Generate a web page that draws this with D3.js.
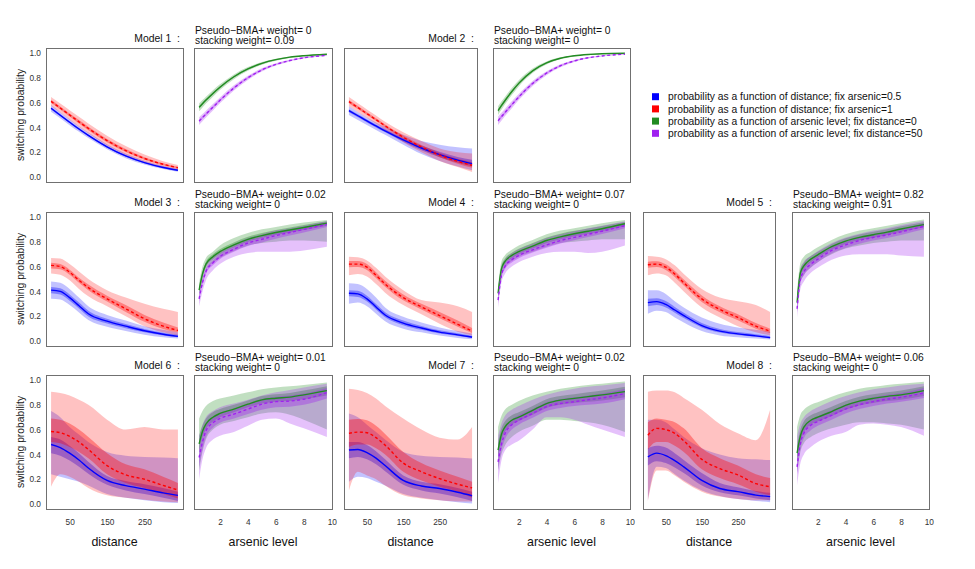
<!DOCTYPE html>
<html>
<head>
<meta charset="utf-8">
<script src="https://cdn.jsdelivr.net/npm/d3@7"></script>
<style>
body { margin: 0; background: #fff; }
svg { display: block; font-family: "Liberation Sans", Arial, Helvetica, sans-serif; }
</style>
</head>
<body>
<script>
// x grids (distance and arsenic level) at which the curves were read
var distX = [0.4, 25, 50, 75, 100, 150, 200, 250, 300, 339.5];
var arsX = [0.51, 0.75, 1, 1.5, 2, 3, 4, 5, 6, 7, 8, 9.65];

var modelNames = ["Model 1", "Model 2", "Model 3", "Model 4", "Model 5", "Model 6", "Model 7", "Model 8"];
var bmaWeights = ["0", "0", "0.02", "0.07", "0.82", "0.01", "0.02", "0.06"];
var stackWeights = ["0.09", "0", "0", "0", "0.91", "0", "0", "0"];

var legendLabels = [
  "probability as a function of distance; fix arsenic=0.5",
  "probability as a function of distance; fix arsenic=1",
  "probability as a function of arsenic level; fix distance=0",
  "probability as a function of arsenic level; fix distance=50"
];
var seriesColors = ["#0000ff", "#ff0000", "#228b22", "#a020f0"];

var yTicks = [0, 0.2, 0.4, 0.6, 0.8, 1.0];
var distTicks = [50, 150, 250];
var arsTicks = [2, 4, 6, 8, 10];

// each series: [median, lo50, hi50, lo95, hi95]
var m1Blue = [
  [0.554,0.498,0.442,0.387,0.336,0.244,0.170,0.116,0.077,0.055],
  [0.545,0.49,0.434,0.379,0.329,0.237,0.164,0.111,0.072,0.051],
  [0.563,0.506,0.45,0.395,0.343,0.251,0.176,0.121,0.082,0.059],
  [0.527,0.473,0.418,0.364,0.314,0.224,0.152,0.101,0.064,0.043],
  [0.581,0.523,0.466,0.41,0.358,0.265,0.189,0.132,0.091,0.068]];
var m1Red = [
  [0.61,0.556,0.500,0.445,0.392,0.294,0.213,0.150,0.103,0.075],
  [0.598,0.544,0.487,0.431,0.378,0.281,0.201,0.140,0.095,0.068],
  [0.622,0.568,0.513,0.459,0.406,0.307,0.225,0.160,0.111,0.082],
  [0.575,0.52,0.462,0.405,0.352,0.255,0.178,0.121,0.080,0.055],
  [0.645,0.592,0.538,0.485,0.432,0.333,0.25,0.182,0.128,0.098]];
var m1Green = [
  [0.562,0.591,0.620,0.674,0.724,0.808,0.871,0.916,0.946,0.966,0.978,0.990],
  [0.551,0.581,0.611,0.665,0.716,0.802,0.866,0.912,0.943,0.964,0.977,0.989],
  [0.573,0.601,0.629,0.683,0.732,0.814,0.876,0.92,0.949,0.968,0.979,0.991],
  [0.53,0.561,0.592,0.648,0.701,0.789,0.856,0.905,0.938,0.96,0.974,0.987],
  [0.594,0.621,0.648,0.70,0.747,0.827,0.886,0.927,0.954,0.972,0.982,0.993]];
var m1Purple = [
  [0.451,0.479,0.507,0.563,0.618,0.718,0.800,0.863,0.908,0.939,0.961,0.981],
  [0.44,0.469,0.497,0.554,0.61,0.711,0.794,0.858,0.905,0.937,0.959,0.98],
  [0.462,0.489,0.517,0.572,0.626,0.725,0.806,0.868,0.911,0.941,0.963,0.982],
  [0.42,0.45,0.479,0.537,0.594,0.697,0.783,0.85,0.898,0.932,0.955,0.977],
  [0.482,0.508,0.535,0.589,0.642,0.739,0.817,0.876,0.918,0.946,0.967,0.985]];

var m2Blue = [
  [0.535,0.494,0.452,0.412,0.372,0.299,0.234,0.180,0.136,0.108],
  [0.523,0.482,0.44,0.4,0.36,0.285,0.216,0.16,0.115,0.085],
  [0.547,0.506,0.464,0.424,0.385,0.314,0.254,0.203,0.162,0.14],
  [0.50,0.46,0.42,0.38,0.34,0.26,0.185,0.13,0.085,0.055],
  [0.57,0.525,0.48,0.44,0.405,0.34,0.29,0.26,0.24,0.23]];
var m2Red = [
  [0.608,0.560,0.511,0.462,0.413,0.321,0.242,0.177,0.126,0.095],
  [0.595,0.548,0.5,0.451,0.402,0.307,0.227,0.16,0.108,0.075],
  [0.621,0.572,0.522,0.473,0.424,0.335,0.258,0.196,0.147,0.12],
  [0.57,0.525,0.478,0.43,0.38,0.28,0.2,0.13,0.08,0.04],
  [0.645,0.595,0.545,0.495,0.445,0.36,0.29,0.23,0.2,0.19]];
var m2Green = [
  [0.535,0.575,0.615,0.689,0.755,0.856,0.920,0.957,0.977,0.988,0.994,0.998],
  [0.523,0.564,0.605,0.68,0.747,0.85,0.916,0.954,0.975,0.987,0.993,0.998],
  [0.547,0.586,0.625,0.698,0.763,0.862,0.924,0.96,0.979,0.989,0.995,0.998],
  [0.5,0.542,0.585,0.661,0.73,0.838,0.908,0.949,0.972,0.985,0.992,0.997],
  [0.57,0.608,0.645,0.717,0.78,0.874,0.932,0.965,0.982,0.991,0.996,0.999]];
var m2Purple = [
  [0.454,0.486,0.519,0.583,0.645,0.754,0.837,0.897,0.936,0.961,0.976,0.990],
  [0.443,0.475,0.509,0.574,0.637,0.747,0.832,0.893,0.933,0.959,0.975,0.989],
  [0.465,0.497,0.529,0.592,0.653,0.761,0.842,0.901,0.939,0.963,0.977,0.991],
  [0.42,0.454,0.489,0.555,0.62,0.733,0.821,0.885,0.928,0.955,0.972,0.988],
  [0.488,0.518,0.549,0.611,0.67,0.775,0.853,0.909,0.944,0.967,0.98,0.992]];

var m3Blue = [
  [0.41,0.40,0.35,0.285,0.22,0.16,0.12,0.083,0.055,0.038],
  [0.385,0.375,0.325,0.262,0.198,0.142,0.104,0.07,0.045,0.03],
  [0.435,0.425,0.375,0.31,0.244,0.18,0.138,0.098,0.067,0.05],
  [0.34,0.335,0.29,0.23,0.17,0.115,0.08,0.05,0.03,0.02],
  [0.48,0.47,0.42,0.35,0.28,0.21,0.165,0.12,0.09,0.07]];
var m3Red = [
  [0.61,0.60,0.555,0.49,0.43,0.34,0.26,0.18,0.12,0.085],
  [0.585,0.578,0.535,0.47,0.41,0.318,0.235,0.155,0.098,0.07],
  [0.63,0.62,0.575,0.51,0.455,0.365,0.29,0.21,0.15,0.11],
  [0.545,0.535,0.49,0.42,0.36,0.28,0.20,0.12,0.07,0.045],
  [0.67,0.665,0.62,0.56,0.50,0.41,0.35,0.30,0.26,0.235]];
var m3Green = [
  [0.41,0.54,0.62,0.68,0.72,0.775,0.82,0.85,0.875,0.895,0.915,0.95],
  [0.39,0.52,0.60,0.66,0.70,0.755,0.80,0.83,0.855,0.875,0.895,0.93],
  [0.43,0.56,0.64,0.70,0.74,0.795,0.84,0.87,0.895,0.915,0.935,0.965],
  [0.35,0.48,0.57,0.63,0.67,0.725,0.77,0.79,0.80,0.81,0.81,0.80],
  [0.47,0.60,0.67,0.72,0.77,0.83,0.87,0.90,0.92,0.94,0.955,0.975]];
var m3Purple = [
  [0.34,0.47,0.56,0.63,0.68,0.74,0.79,0.82,0.85,0.875,0.90,0.94],
  [0.32,0.45,0.54,0.61,0.66,0.72,0.765,0.795,0.825,0.85,0.875,0.92],
  [0.365,0.49,0.58,0.65,0.70,0.76,0.81,0.84,0.87,0.895,0.92,0.955],
  [0.28,0.40,0.49,0.57,0.62,0.68,0.71,0.72,0.72,0.72,0.73,0.76],
  [0.40,0.53,0.61,0.68,0.72,0.78,0.83,0.86,0.89,0.91,0.93,0.965]];

var m4Blue = [
  [0.385,0.38,0.34,0.275,0.21,0.145,0.105,0.072,0.05,0.032],
  [0.36,0.355,0.318,0.255,0.192,0.128,0.09,0.06,0.04,0.025],
  [0.41,0.405,0.365,0.298,0.232,0.165,0.122,0.086,0.062,0.042],
  [0.30,0.31,0.28,0.22,0.16,0.10,0.07,0.045,0.025,0.015],
  [0.465,0.46,0.42,0.35,0.27,0.195,0.15,0.11,0.08,0.06]];
var m4Red = [
  [0.62,0.62,0.595,0.53,0.46,0.35,0.275,0.205,0.135,0.08],
  [0.595,0.597,0.573,0.508,0.438,0.328,0.255,0.183,0.115,0.065],
  [0.645,0.645,0.62,0.555,0.485,0.375,0.3,0.235,0.165,0.105],
  [0.53,0.54,0.52,0.46,0.39,0.29,0.215,0.14,0.075,0.045],
  [0.68,0.675,0.65,0.59,0.52,0.41,0.33,0.31,0.28,0.235]];
var m4Green = [
  [0.385,0.58,0.64,0.69,0.72,0.765,0.81,0.84,0.865,0.885,0.905,0.945],
  [0.36,0.555,0.618,0.668,0.70,0.745,0.79,0.82,0.845,0.865,0.885,0.925],
  [0.41,0.605,0.663,0.712,0.743,0.79,0.835,0.865,0.888,0.908,0.928,0.96],
  [0.33,0.52,0.59,0.645,0.68,0.72,0.76,0.79,0.80,0.81,0.82,0.82],
  [0.44,0.64,0.69,0.735,0.77,0.815,0.86,0.89,0.91,0.93,0.95,0.975]];
var m4Purple = [
  [0.33,0.53,0.60,0.655,0.69,0.735,0.775,0.81,0.835,0.86,0.885,0.93],
  [0.305,0.505,0.578,0.633,0.668,0.713,0.752,0.787,0.812,0.838,0.862,0.91],
  [0.355,0.555,0.623,0.678,0.713,0.758,0.8,0.834,0.86,0.883,0.908,0.95],
  [0.27,0.47,0.54,0.60,0.635,0.68,0.71,0.72,0.72,0.71,0.72,0.77],
  [0.39,0.59,0.655,0.705,0.74,0.785,0.83,0.86,0.885,0.91,0.93,0.965]];

var m5Blue = [
  [0.31,0.318,0.295,0.25,0.205,0.125,0.08,0.058,0.042,0.027],
  [0.28,0.29,0.27,0.228,0.185,0.11,0.068,0.048,0.034,0.021],
  [0.34,0.345,0.322,0.275,0.228,0.145,0.097,0.072,0.055,0.038],
  [0.22,0.245,0.235,0.19,0.15,0.08,0.045,0.03,0.02,0.012],
  [0.41,0.41,0.38,0.32,0.27,0.19,0.14,0.11,0.09,0.075]];
var m5Red = [
  [0.615,0.62,0.595,0.54,0.47,0.34,0.255,0.19,0.12,0.08],
  [0.59,0.597,0.573,0.517,0.447,0.315,0.232,0.167,0.1,0.065],
  [0.64,0.643,0.618,0.565,0.495,0.368,0.28,0.215,0.145,0.1],
  [0.53,0.545,0.53,0.47,0.40,0.27,0.19,0.12,0.07,0.045],
  [0.685,0.68,0.66,0.61,0.54,0.42,0.35,0.32,0.29,0.235]];
var m5Green = [
  [0.31,0.55,0.605,0.66,0.695,0.76,0.805,0.835,0.857,0.878,0.903,0.938],
  [0.28,0.52,0.578,0.635,0.672,0.738,0.783,0.812,0.833,0.855,0.88,0.918],
  [0.34,0.58,0.633,0.685,0.72,0.783,0.828,0.858,0.88,0.9,0.925,0.958],
  [0.24,0.47,0.53,0.59,0.635,0.70,0.745,0.77,0.79,0.80,0.81,0.81],
  [0.40,0.63,0.68,0.72,0.755,0.815,0.86,0.89,0.91,0.93,0.95,0.98]];
var m5Purple = [
  [0.26,0.50,0.56,0.62,0.66,0.73,0.775,0.81,0.835,0.855,0.88,0.925],
  [0.23,0.47,0.533,0.595,0.636,0.706,0.75,0.785,0.81,0.83,0.855,0.9],
  [0.29,0.53,0.588,0.645,0.685,0.755,0.8,0.835,0.86,0.88,0.905,0.948],
  [0.19,0.42,0.48,0.55,0.59,0.655,0.69,0.70,0.70,0.70,0.69,0.68],
  [0.34,0.58,0.64,0.685,0.725,0.79,0.835,0.865,0.89,0.91,0.935,0.97]];

var m6Blue = [
  [0.48,0.455,0.41,0.355,0.29,0.19,0.148,0.12,0.09,0.07],
  [0.41,0.39,0.35,0.30,0.245,0.155,0.11,0.08,0.05,0.025],
  [0.54,0.52,0.47,0.41,0.34,0.225,0.185,0.16,0.13,0.10],
  [0.24,0.22,0.20,0.18,0.15,0.08,0.05,0.03,0.015,0.008],
  [0.75,0.70,0.62,0.56,0.50,0.42,0.39,0.38,0.375,0.37]];
var m6Red = [
  [0.585,0.575,0.545,0.5,0.44,0.31,0.235,0.2,0.15,0.113],
  [0.50,0.49,0.46,0.42,0.37,0.24,0.17,0.13,0.08,0.045],
  [0.69,0.68,0.65,0.60,0.54,0.41,0.32,0.28,0.22,0.17],
  [0.14,0.24,0.22,0.18,0.13,0.07,0.05,0.035,0.02,0.015],
  [0.905,0.895,0.875,0.84,0.80,0.68,0.6,0.62,0.6,0.6]];
var m6Green = [
  [0.485,0.585,0.645,0.70,0.73,0.765,0.805,0.84,0.853,0.862,0.88,0.914],
  [0.42,0.54,0.605,0.665,0.70,0.74,0.78,0.81,0.825,0.83,0.845,0.875],
  [0.55,0.635,0.69,0.74,0.765,0.80,0.835,0.87,0.885,0.895,0.915,0.95],
  [0.27,0.42,0.52,0.60,0.64,0.67,0.70,0.73,0.74,0.72,0.68,0.60],
  [0.69,0.75,0.79,0.83,0.85,0.875,0.90,0.925,0.94,0.95,0.96,0.98]];
var m6Purple = [
  [0.375,0.50,0.59,0.655,0.69,0.725,0.765,0.805,0.825,0.83,0.845,0.898],
  [0.30,0.44,0.54,0.615,0.655,0.69,0.725,0.76,0.78,0.785,0.80,0.85],
  [0.44,0.56,0.635,0.695,0.725,0.76,0.80,0.845,0.865,0.875,0.89,0.935],
  [0.20,0.36,0.45,0.52,0.55,0.58,0.63,0.68,0.69,0.65,0.61,0.54],
  [0.55,0.64,0.70,0.75,0.78,0.81,0.84,0.875,0.90,0.92,0.94,0.97]];

var m7Blue = [
  [0.435,0.44,0.415,0.37,0.31,0.19,0.145,0.125,0.095,0.067],
  [0.37,0.38,0.36,0.32,0.265,0.155,0.11,0.085,0.055,0.025],
  [0.50,0.50,0.475,0.425,0.36,0.23,0.18,0.16,0.13,0.10],
  [0.18,0.22,0.21,0.18,0.15,0.08,0.05,0.03,0.015,0.005],
  [0.73,0.70,0.64,0.58,0.52,0.42,0.39,0.38,0.375,0.368]];
var m7Red = [
  [0.57,0.58,0.575,0.535,0.475,0.33,0.26,0.205,0.16,0.13],
  [0.46,0.48,0.48,0.45,0.40,0.26,0.19,0.14,0.1,0.05],
  [0.68,0.685,0.675,0.63,0.565,0.42,0.33,0.27,0.22,0.18],
  [0.11,0.26,0.23,0.20,0.15,0.07,0.045,0.03,0.02,0.02],
  [0.93,0.92,0.895,0.85,0.79,0.69,0.60,0.535,0.52,0.62]];
var m7Green = [
  [0.435,0.56,0.62,0.675,0.70,0.755,0.81,0.838,0.852,0.866,0.88,0.906],
  [0.37,0.51,0.58,0.64,0.67,0.72,0.775,0.80,0.815,0.825,0.835,0.86],
  [0.50,0.61,0.665,0.715,0.74,0.79,0.845,0.87,0.885,0.90,0.915,0.945],
  [0.27,0.40,0.47,0.54,0.58,0.63,0.68,0.68,0.67,0.66,0.64,0.58],
  [0.62,0.71,0.76,0.80,0.83,0.875,0.905,0.93,0.946,0.96,0.97,0.987]];
var m7Purple = [
  [0.34,0.48,0.565,0.64,0.675,0.73,0.785,0.81,0.825,0.84,0.855,0.89],
  [0.28,0.43,0.52,0.60,0.64,0.695,0.75,0.775,0.79,0.80,0.81,0.845],
  [0.41,0.535,0.61,0.68,0.715,0.765,0.82,0.845,0.86,0.875,0.89,0.93],
  [0.167,0.35,0.43,0.48,0.51,0.60,0.70,0.70,0.68,0.64,0.60,0.54],
  [0.55,0.65,0.71,0.76,0.79,0.84,0.88,0.91,0.93,0.945,0.955,0.975]];

var m8Blue = [
  [0.38,0.41,0.39,0.35,0.30,0.19,0.125,0.10,0.072,0.06],
  [0.31,0.345,0.33,0.295,0.25,0.15,0.095,0.07,0.045,0.03],
  [0.45,0.47,0.455,0.41,0.355,0.25,0.17,0.135,0.105,0.09],
  [0.03,0.30,0.29,0.24,0.19,0.11,0.065,0.04,0.025,0.015],
  [0.68,0.68,0.66,0.60,0.54,0.45,0.40,0.37,0.36,0.355]];
var m8Red = [
  [0.555,0.61,0.60,0.57,0.51,0.36,0.285,0.235,0.165,0.14],
  [0.44,0.50,0.50,0.47,0.42,0.28,0.21,0.16,0.1,0.07],
  [0.66,0.69,0.68,0.66,0.61,0.45,0.37,0.31,0.24,0.21],
  [0.02,0.27,0.27,0.23,0.18,0.1,0.06,0.04,0.03,0.03],
  [0.906,0.915,0.915,0.90,0.855,0.76,0.645,0.57,0.515,0.76]];
var m8Green = [
  [0.41,0.55,0.62,0.675,0.70,0.745,0.795,0.83,0.852,0.868,0.88,0.914],
  [0.35,0.50,0.58,0.64,0.665,0.71,0.76,0.795,0.815,0.83,0.84,0.87],
  [0.47,0.60,0.665,0.715,0.74,0.785,0.83,0.865,0.885,0.90,0.915,0.95],
  [0.25,0.42,0.49,0.54,0.57,0.61,0.64,0.66,0.66,0.65,0.64,0.60],
  [0.62,0.72,0.76,0.80,0.82,0.865,0.90,0.93,0.945,0.96,0.97,0.985]];
var m8Purple = [
  [0.30,0.49,0.57,0.635,0.665,0.715,0.765,0.80,0.825,0.845,0.86,0.895],
  [0.24,0.44,0.53,0.595,0.63,0.68,0.73,0.765,0.79,0.81,0.825,0.855],
  [0.36,0.54,0.615,0.675,0.705,0.755,0.80,0.835,0.86,0.88,0.895,0.935],
  [0.15,0.33,0.40,0.46,0.50,0.55,0.58,0.64,0.65,0.64,0.62,0.55],
  [0.55,0.65,0.70,0.75,0.78,0.83,0.87,0.90,0.925,0.94,0.955,0.97]];

var distSeries = [[m1Blue, m1Red], [m2Blue, m2Red], [m3Blue, m3Red], [m4Blue, m4Red],
                  [m5Blue, m5Red], [m6Blue, m6Red], [m7Blue, m7Red], [m8Blue, m8Red]];
var arsSeries = [[m1Green, m1Purple], [m2Green, m2Purple], [m3Green, m3Purple], [m4Green, m4Purple],
                 [m5Green, m5Purple], [m6Green, m6Purple], [m7Green, m7Purple], [m8Green, m8Purple]];

// layout
var w = 975, h = 569;
var rowTop = [48, 212, 375], panelH = 134;
var distLeft = [46, 344, 643], distW = [137, 133, 132];
var arsLeft = [194, 493, 792], arsW = [138, 137, 137];
var slots = [[0,0],[0,1],[1,0],[1,1],[1,2],[2,0],[2,1],[2,2]];

var svg = d3.select("body").append("svg")
  .attr("width", w)
  .attr("height", h);

// bands: 95% interval light, 50% interval darker on top
function drawPanel(left, top, width, xDomain, xs, series, colors, alphas, showY, xTickVals) {
  var x = d3.scaleLinear().domain(xDomain).range([left, left + width]);
  var y = d3.scaleLinear().domain([-0.04, 1.04]).range([top + panelH, top]);
  var g = svg.append("g");

  series.forEach(function(s, k) {
    [[3, 4, alphas[0]], [1, 2, alphas[1]]].forEach(function(b) {
      var area = d3.area()
        .x(function(d, i) { return x(xs[i]); })
        .y0(function(d, i) { return y(s[b[0]][i]); })
        .y1(function(d, i) { return y(s[b[1]][i]); })
        .curve(d3.curveMonotoneX);
      g.append("path")
        .attr("d", area(xs))
        .attr("fill", colors[k])
        .attr("fill-opacity", b[2]);
    });
  });

  series.forEach(function(s, k) {
    var line = d3.line()
      .x(function(d, i) { return x(xs[i]); })
      .y(function(d, i) { return y(s[0][i]); })
      .curve(d3.curveMonotoneX);
    g.append("path")
      .attr("d", line(xs))
      .attr("fill", "none")
      .attr("stroke", colors[k])
      .attr("stroke-width", 1.4)
      .attr("stroke-dasharray", k == 1 ? "3,2.5" : null);
  });

  g.append("rect")
    .attr("x", left + 0.5).attr("y", top + 0.5)
    .attr("width", width).attr("height", panelH)
    .attr("fill", "none")
    .attr("stroke", "#707070")
    .attr("stroke-width", 1);

  if (showY) {
    var ya = g.append("g")
      .attr("transform", "translate(" + left + ",0)")
      .call(d3.axisLeft(y).tickValues(yTicks).tickSize(0).tickPadding(5).tickFormat(d3.format(".1f")));
    ya.select(".domain").remove();
    ya.selectAll("text").attr("font-size", 8.3).attr("fill", "#333").attr("font-family", null);
    g.append("text")
      .attr("transform", "translate(23.7," + (top + panelH / 2) + ") rotate(-90)")
      .attr("text-anchor", "middle")
      .attr("font-size", 10.3)
      .attr("fill", "#222")
      .text("switching probability");
  }
  if (xTickVals) {
    var xa = g.append("g")
      .attr("transform", "translate(0," + (top + panelH) + ")")
      .call(d3.axisBottom(x).tickValues(xTickVals).tickSize(0).tickPadding(10));
    xa.select(".domain").remove();
    xa.selectAll("text").attr("font-size", 8.3).attr("fill", "#333").attr("font-family", null);
  }
}

modelNames.forEach(function(name, m) {
  var row = slots[m][0], pair = slots[m][1];
  var top = rowTop[row];
  var bottomRow = row == 2;
  drawPanel(distLeft[pair], top, distW[pair], [0.387 - 13.56, 339.5 + 13.56], distX,
            distSeries[m], [seriesColors[0], seriesColors[1]], [0.24, 0.35], pair == 0, bottomRow ? distTicks : null);
  drawPanel(arsLeft[pair], top, arsW[pair], [0.51 - 0.366, 9.65 + 0.366], arsX,
            arsSeries[m], [seriesColors[2], seriesColors[3]], [0.28, 0.36], false, bottomRow ? arsTicks : null);

  svg.append("text")
    .attr("x", distLeft[pair] + distW[pair] - 3)
    .attr("y", top - 6)
    .attr("text-anchor", "end")
    .attr("font-size", 10.4)
    .attr("fill", "#111")
    .text(name + "\u00a0\u00a0:");
  svg.append("text")
    .attr("x", arsLeft[pair] + 1)
    .attr("y", top - 14)
    .attr("font-size", 10.3)
    .attr("fill", "#111")
    .text("Pseudo\u2212BMA+ weight= " + bmaWeights[m]);
  svg.append("text")
    .attr("x", arsLeft[pair] + 1)
    .attr("y", top - 4)
    .attr("font-size", 10.3)
    .attr("fill", "#111")
    .text("stacking weight= " + stackWeights[m]);

  if (bottomRow) {
    svg.append("text")
      .attr("x", distLeft[pair] + distW[pair] / 2)
      .attr("y", 545.5)
      .attr("text-anchor", "middle")
      .attr("font-size", 12.4)
      .attr("fill", "#111")
      .text("distance");
    svg.append("text")
      .attr("x", arsLeft[pair] + arsW[pair] / 2)
      .attr("y", 545.5)
      .attr("text-anchor", "middle")
      .attr("font-size", 12.4)
      .attr("fill", "#111")
      .text("arsenic level");
  }
});

// legend
var legend = svg.append("g");
legendLabels.forEach(function(lab, i) {
  var cy = 96.7 + 12.2 * i;
  legend.append("rect")
    .attr("x", 652).attr("y", cy - 3.5)
    .attr("width", 7).attr("height", 7)
    .attr("fill", seriesColors[i]);
  legend.append("text")
    .attr("x", 668).attr("y", cy + 3.7)
    .attr("font-size", 10.3)
    .attr("fill", "#111")
    .text(lab);
});
</script>
</body>
</html>
